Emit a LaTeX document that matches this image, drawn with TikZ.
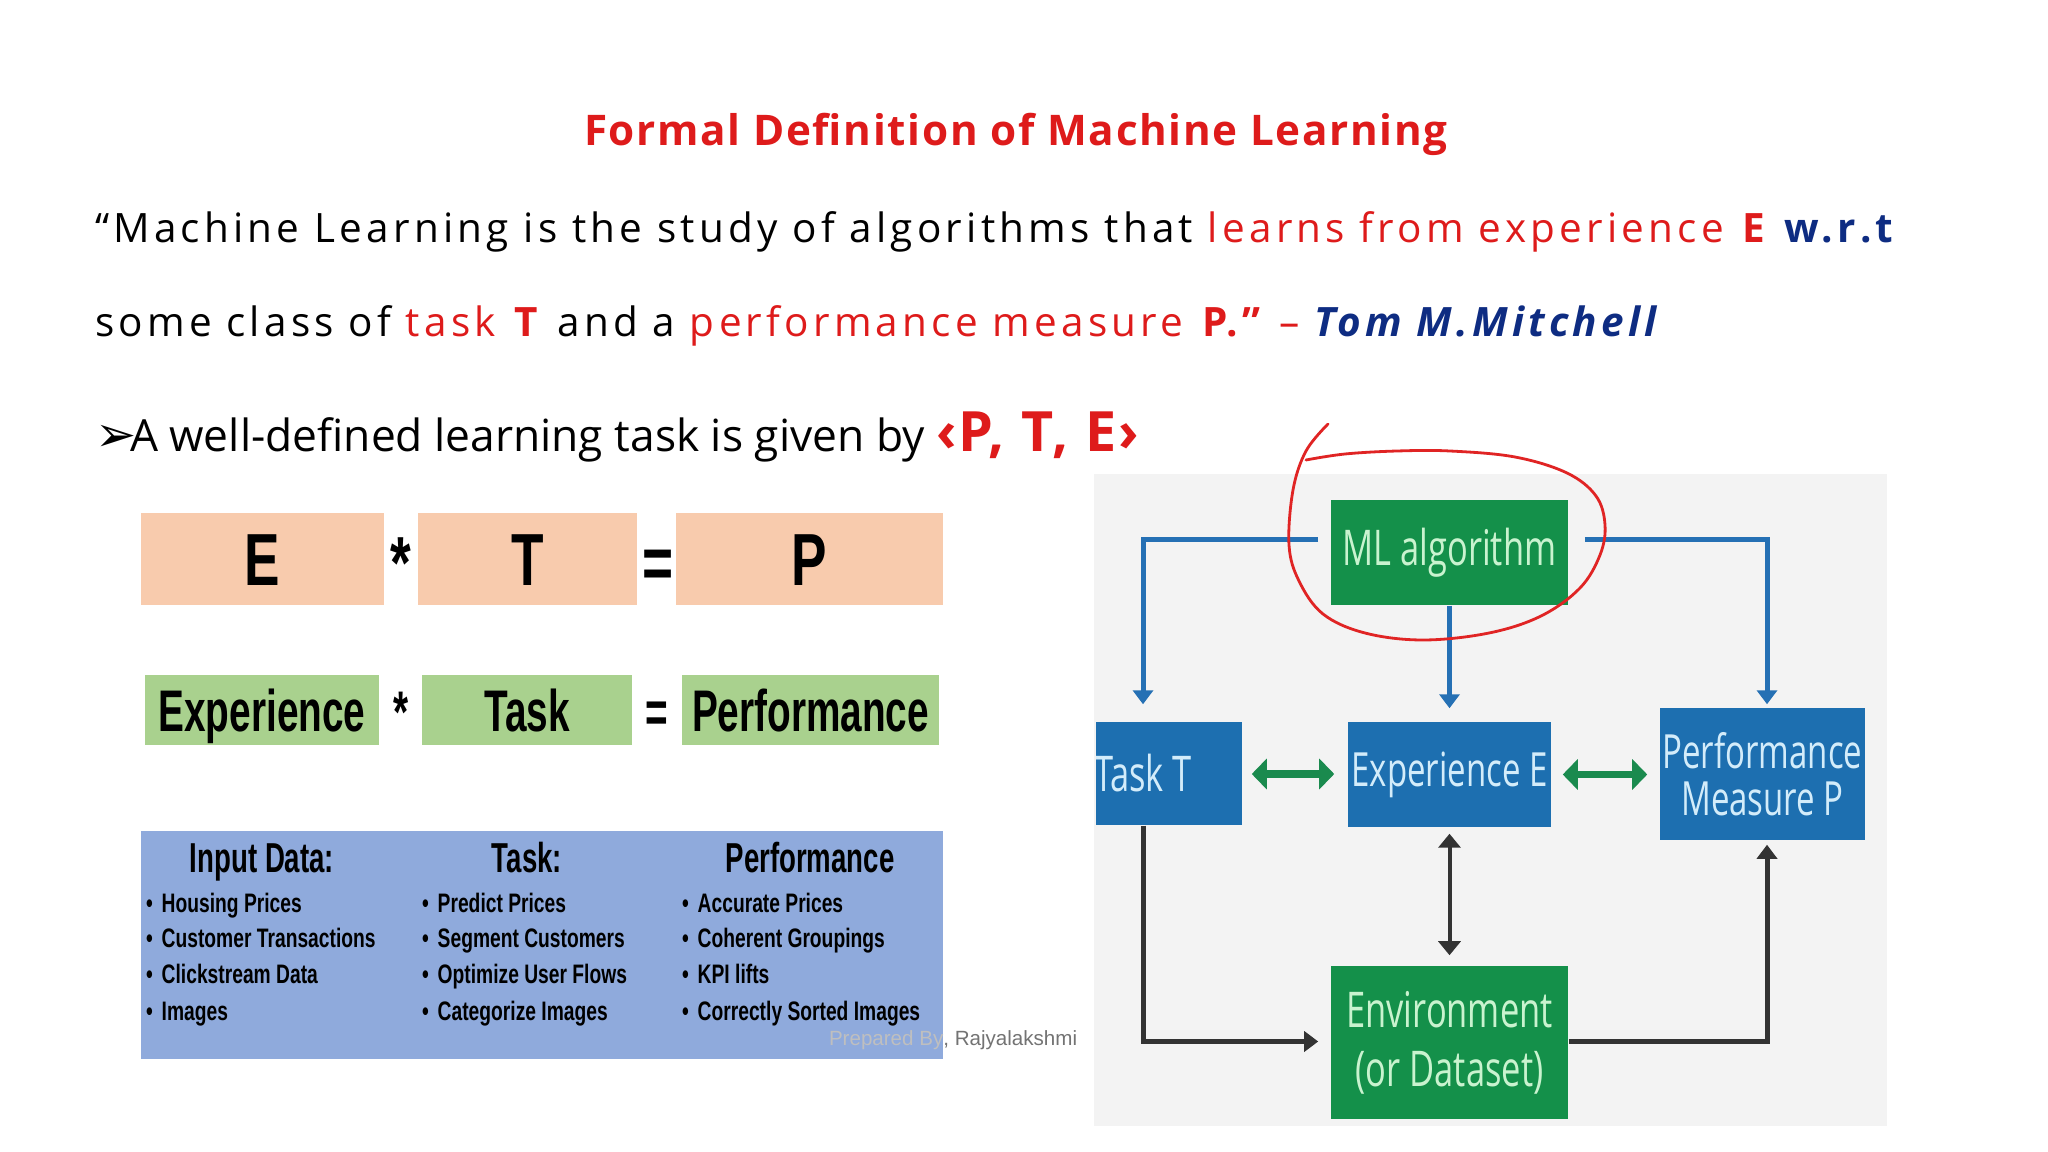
\documentclass[tikz,border=0pt]{standalone}
\usepackage{fontspec}
\setmainfont{Open Sans}
\newfontfamily\comic[LetterSpace=10.5]{Open Sans}
\newfontfamily\comict[LetterSpace=4]{Open Sans}
\newfontfamily\comicw[LetterSpace=4]{Open Sans}
\newfontfamily\comicn{Open Sans}
\newfontfamily\arialn[FakeStretch=0.66]{Liberation Sans}
\newfontfamily\arialm[FakeStretch=0.72]{Liberation Sans}
\newfontfamily\arialr{Liberation Sans}
\newfontfamily\segoe[FakeStretch=0.70]{Open Sans}
\newfontfamily\dejavu{DejaVu Sans}
\usetikzlibrary{arrows.meta,calc}
\definecolor{tred}{HTML}{DE1B1B}
\definecolor{tblue}{HTML}{0E2C82}
\definecolor{peach}{HTML}{F8CBAD}
\definecolor{lgreen}{HTML}{A9D18E}
\definecolor{lblue}{HTML}{8FAADC}
\definecolor{mlgreen}{HTML}{14904A}
\definecolor{boxblue}{HTML}{1D6FB0}
\definecolor{linkblue}{HTML}{2570B4}
\definecolor{arrgreen}{HTML}{1A8A4E}
\definecolor{darkgrey}{HTML}{333333}
\definecolor{gtext}{HTML}{C9F3CF}
\definecolor{btext}{HTML}{D3ECFA}
\definecolor{panel}{HTML}{F3F3F3}
\definecolor{loopred}{HTML}{E02424}
\begin{document}
\begin{tikzpicture}[x=0.01cm,y=-0.01cm,
  txt/.style={inner sep=0pt, outer sep=0pt, anchor=base west},
  ctxt/.style={inner sep=0pt, outer sep=0pt, anchor=base},
  peachbox/.style={fill=peach, inner sep=0pt, minimum height=0.92cm, text height=0.53cm, text depth=0pt, font={\arialm\bfseries\fontsize{21}{24}\selectfont}},
  greenbox/.style={fill=lgreen, inner sep=0pt, minimum height=0.70cm, text height=0.42cm, text depth=0pt, font={\arialn\bfseries\fontsize{16.7}{19}\selectfont}},
  bigop/.style={ctxt, font={\arialm\bfseries\fontsize{21}{24}\selectfont}},
  midop/.style={ctxt, font={\arialn\bfseries\fontsize{16.7}{19}\selectfont}},
  colhead/.style={ctxt, font={\arialn\bfseries\fontsize{11.9}{14}\selectfont}},
  item/.style={txt, font={\arialm\bfseries\fontsize{7.6}{9}\selectfont}},
  gbox/.style={fill=mlgreen, text=gtext, inner sep=0pt, align=center, font={\segoe\fontsize{14}{16}\selectfont}},
  bbox/.style={fill=boxblue, text=btext, inner sep=0pt, align=center, font={\segoe\fontsize{13.4}{16}\selectfont}},
  bline/.style={draw=linkblue, line width=0.05cm, -{Triangle[length=0.14cm,width=0.2cm]}},
  garrow/.style={draw=arrgreen, line width=0.07cm, {Triangle[length=0.15cm,width=0.30cm]}-{Triangle[length=0.15cm,width=0.30cm]}},
  darrow/.style={draw=darkgrey, line width=0.04cm, {Triangle[length=0.14cm,width=0.22cm]}-{Triangle[length=0.14cm,width=0.22cm]}},
  dline/.style={draw=darkgrey, line width=0.05cm, -{Triangle[length=0.14cm,width=0.2cm]}},
  redloop/.style={draw=loopred, line width=0.028cm, line cap=round, line join=round}
]
\useasboundingbox[fill=white] (0,0) rectangle (2048,1152);

% ---------- text ----------
\node[ctxt, font={\comict\bfseries\fontsize{12}{14}\selectfont}, text=tred] (title) at (1016,146) {Formal Definition of Machine Learning};
\node[txt, font={\comic\fontsize{11.5}{14}\selectfont}] (l1) at (95,243)
  {“Machine Learning is the study of algorithms that \textcolor{tred}{learns from experience \textbf{E}} \textcolor{tblue}{\textbf{w.r.t}}};
\node[txt, font={\comic\fontsize{11.5}{14}\selectfont}] (l2) at (95,337)
  {some class of \textcolor{tred}{task \textbf{T}} and a \textcolor{tred}{performance measure \textbf{P.”}} \textcolor{tred}{–} \textcolor{tblue}{\bfseries\itshape Tom M.Mitchell}};
\node[txt, font={\dejavu\fontsize{14}{16}\selectfont}] (bul) at (95,452) {➢};
\node[txt, font={\comicn\fontsize{12.6}{15}\selectfont}] (l3) at (130,452)
  {A well-defined learning task is given by \textcolor{tred}{\comicw\fontsize{15.8}{18}\selectfont\bfseries ‹P, T, E›}};

% ---------- E * T = P ----------
\node[peachbox, minimum width=2.43cm] (E) at (262.5,559) {E};
\node[peachbox, minimum width=2.19cm] (T) at (527.5,559) {T};
\node[peachbox, minimum width=2.67cm] (P) at (809.5,559) {P};
\node[bigop] (op1) at (401,588) {*};
\node[bigop] (op2) at (658,588) {=};

\node[greenbox, minimum width=2.34cm] (Exp) at (262,710) {Experience};
\node[greenbox, minimum width=2.10cm] (Task) at (527,710) {Task};
\node[greenbox, minimum width=2.57cm] (Perf) at (810.5,710) {Performance};
\node[midop] (op3) at (401,732) {*};
\node[midop] (op4) at (657,732) {=};

% ---------- blue table ----------
\node[fill=lblue, minimum width=8.02cm, minimum height=2.28cm, inner sep=0pt] (tab) at (542,945) {};
\node[colhead] (h1) at (262,872) {Input Data:};
\node[colhead] (h2) at (527,872) {Task:};
\node[colhead] (h3) at (810,872) {Performance};
\node[item] (a1) at (146,912) {\textbullet\hspace{0.09cm}Housing Prices};
\node[item] (a2) at (146,947) {\textbullet\hspace{0.09cm}Customer Transactions};
\node[item] (a3) at (146,983) {\textbullet\hspace{0.09cm}Clickstream Data};
\node[item] (a4) at (146,1020) {\textbullet\hspace{0.09cm}Images};
\node[item] (b1) at (422,912) {\textbullet\hspace{0.09cm}Predict Prices};
\node[item] (b2) at (422,947) {\textbullet\hspace{0.09cm}Segment Customers};
\node[item] (b3) at (422,983) {\textbullet\hspace{0.09cm}Optimize User Flows};
\node[item] (b4) at (422,1020) {\textbullet\hspace{0.09cm}Categorize Images};
\node[item] (c1) at (682,912) {\textbullet\hspace{0.09cm}Accurate Prices};
\node[item] (c2) at (682,947) {\textbullet\hspace{0.09cm}Coherent Groupings};
\node[item] (c3) at (682,983) {\textbullet\hspace{0.09cm}KPI lifts};
\node[item] (c4) at (682,1020) {\textbullet\hspace{0.09cm}Correctly Sorted Images};
\node[txt, font={\arialr\fontsize{5.85}{7}\selectfont}] (prep) at (829,1045)
  {\textcolor{black!25}{Prepared By}\textcolor{black!55}{, Rajyalakshmi}};

% ---------- right diagram ----------
\fill[panel] (1094,474) rectangle (1887,1126);
\node[gbox, minimum width=2.37cm, minimum height=1.05cm] (ML) at (1449.5,552.5) {ML algorithm};
\begin{scope}
  \clip (1096,600) rectangle (1300,900);
  \node[bbox, font={\segoe\fontsize{14}{16}\selectfont}, minimum width=1.98cm, minimum height=1.03cm] (TaskT) at (1143,773.5) {Task T};
\end{scope}
\node[bbox, minimum width=2.03cm, minimum height=1.05cm] (ExpE) at (1449.5,774.5) {Experience E};
\node[bbox, minimum width=2.05cm, minimum height=1.32cm, font={\segoe\fontsize{13.4}{13.4}\selectfont}] (PerfP) at (1762.5,774) {Performance\\Measure P};
\node[gbox, minimum width=2.37cm, minimum height=1.53cm, font={\segoe\fontsize{14}{16.8}\selectfont}] (Env) at (1449.5,1042.5) {Environment\\(or Dataset)};

\draw[bline] ([shift={(-12,-13)}]ML.west) -| ([shift={(0,-17)}]TaskT.north);
\draw[bline] ([shift={(16,-13)}]ML.east) -| ([shift={(4.5,-3)}]PerfP.north);
\draw[bline] (ML.south) -- ([shift={(0,-13)}]ExpE.north);
\draw[garrow] ([shift={(9,0.5)}]TaskT.east) -- ([shift={(-13,-0.5)}]ExpE.west);
\draw[garrow] ([shift={(11,0)}]ExpE.east) -- ([shift={(-12,0.5)}]PerfP.west);
\draw[darrow] ([shift={(0,6)}]ExpE.south) -- ([shift={(0,-10)}]Env.north);
\draw[dline] (TaskT.south) |- ([shift={(-12,-1)}]Env.west);
\draw[dline] ([shift={(0,-1)}]Env.east) -| ([shift={(4.5,4)}]PerfP.south);

% ---------- red hand-drawn loop ----------
\draw[redloop] plot[smooth, tension=0.6] coordinates {(1306,460) (1345,454) (1397,451) (1450,451) (1515,457) (1567,473) (1596,496) (1605,525) (1600,555) (1580,588) (1541,616) (1489,633) (1423,640) (1365,633) (1323,614) (1299,581) (1289,545) (1293,490) (1306,451) (1328,424)};
\end{tikzpicture}
\end{document}
